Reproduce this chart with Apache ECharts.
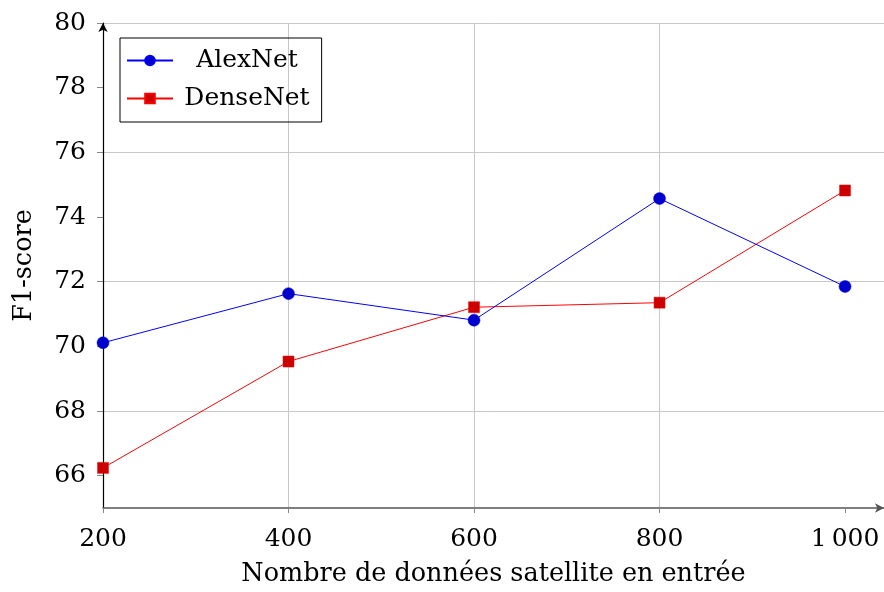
<!DOCTYPE html>
<html>
<head>
<meta charset="utf-8">
<script src="https://cdn.jsdelivr.net/npm/echarts@6/dist/echarts.min.js"></script>
<style>
  html, body { margin: 0; padding: 0; background: #fff; }
  #chart { width: 884px; height: 592px; }
</style>
</head>
<body>
<div id="chart"></div>
<script>
// nombre de données en entrée
const xValues = [200, 400, 600, 800, 1000];
// F1-score par réseau
const alexNet = [70.11, 71.63, 70.81, 74.57, 71.85];
const denseNet = [66.24, 69.53, 71.21, 71.35, 74.82];
// graduations
const yTicks = [66, 68, 70, 72, 74, 76, 78, 80];
const xTicks = [200, 400, 600, 800, 1000];

const serif = "DejaVu Serif";

const pairs = (ys) => xValues.map((x, i) => [x, ys[i]]);

const myChart = echarts.init(document.getElementById('chart'));

let option = {
  animation: false,
  textStyle: { fontFamily: serif, color: '#000' },
  grid: { left: 103, right: 0, top: 23, bottom: 84, containLabel: false, outerBoundsMode: 'none' },
  legend: {
    left: 120,
    top: 38,
    orient: 'vertical',
    itemWidth: 46,
    itemHeight: 12,
    itemGap: 13,
    padding: [10, 12, 11, 6],
    borderColor: '#000',
    borderWidth: 1,
    borderRadius: 0,
    formatter: (name) => '{c|' + name + '}',
    textStyle: {
      fontFamily: serif,
      fontSize: 25,
      color: '#000',
      rich: {
        c: { fontFamily: serif, fontSize: 25, width: 138, align: 'center' }
      }
    },
    data: ['AlexNet', 'DenseNet']
  },
  xAxis: {
    type: 'value',
    min: 200,
    max: 1042,
    interval: 200,
    name: 'Nombre de données satellite en entrée',
    nameLocation: 'middle',
    nameGap: 53,
    nameTextStyle: { fontFamily: serif, fontSize: 25.5, color: '#000' },
    axisLine: {
      show: true,
      symbol: ['none', 'arrow'],
      symbolSize: [7, 9],
      lineStyle: { color: '#555', width: 1.5 }
    },
    axisTick: { show: true, length: 5, inside: false, customValues: xTicks, lineStyle: { color: '#888' } },
    axisLabel: {
      customValues: xTicks,
      fontFamily: serif,
      fontSize: 25,
      color: '#000',
      margin: 19,
      formatter: (v) => (v >= 1000 ? '1\u2009000' : String(v))
    },
    splitLine: { show: true, showMaxLine: false, lineStyle: { color: '#c8c8c8', width: 1 } }
  },
  yAxis: {
    type: 'value',
    min: 65,
    max: 80,
    interval: 1,
    name: 'F1-score',
    nameLocation: 'middle',
    nameGap: 66,
    nameRotate: 90,
    nameTextStyle: { fontFamily: serif, fontSize: 25.5, color: '#000' },
    axisLine: {
      show: true,
      symbol: ['none', 'arrow'],
      symbolSize: [7, 9],
      lineStyle: { color: '#000', width: 1.2 }
    },
    axisTick: { show: true, length: 6, customValues: yTicks, lineStyle: { color: '#888' } },
    axisLabel: {
      customValues: yTicks,
      fontFamily: serif,
      fontSize: 25,
      color: '#000',
      margin: 17
    },
    splitLine: {
      show: true,
      lineStyle: { color: ['rgba(0,0,0,0)', '#c8c8c8'], width: 1 }
    }
  },
  series: [
    {
      name: 'AlexNet',
      type: 'line',
      data: pairs(alexNet),
      symbol: 'circle',
      symbolSize: 12,
      lineStyle: { color: '#0000ff', width: 1 },
      itemStyle: { color: '#0000cc', borderColor: '#0000ff', borderWidth: 0.5 },
      z: 3
    },
    {
      name: 'DenseNet',
      type: 'line',
      data: pairs(denseNet),
      symbol: 'rect',
      symbolSize: 11,
      lineStyle: { color: '#ff0000', width: 1 },
      itemStyle: { color: '#cc0000', borderColor: '#ff0000', borderWidth: 0.5 },
      z: 2
    }
  ]
};

option && myChart.setOption(option);
</script>
</body>
</html>
